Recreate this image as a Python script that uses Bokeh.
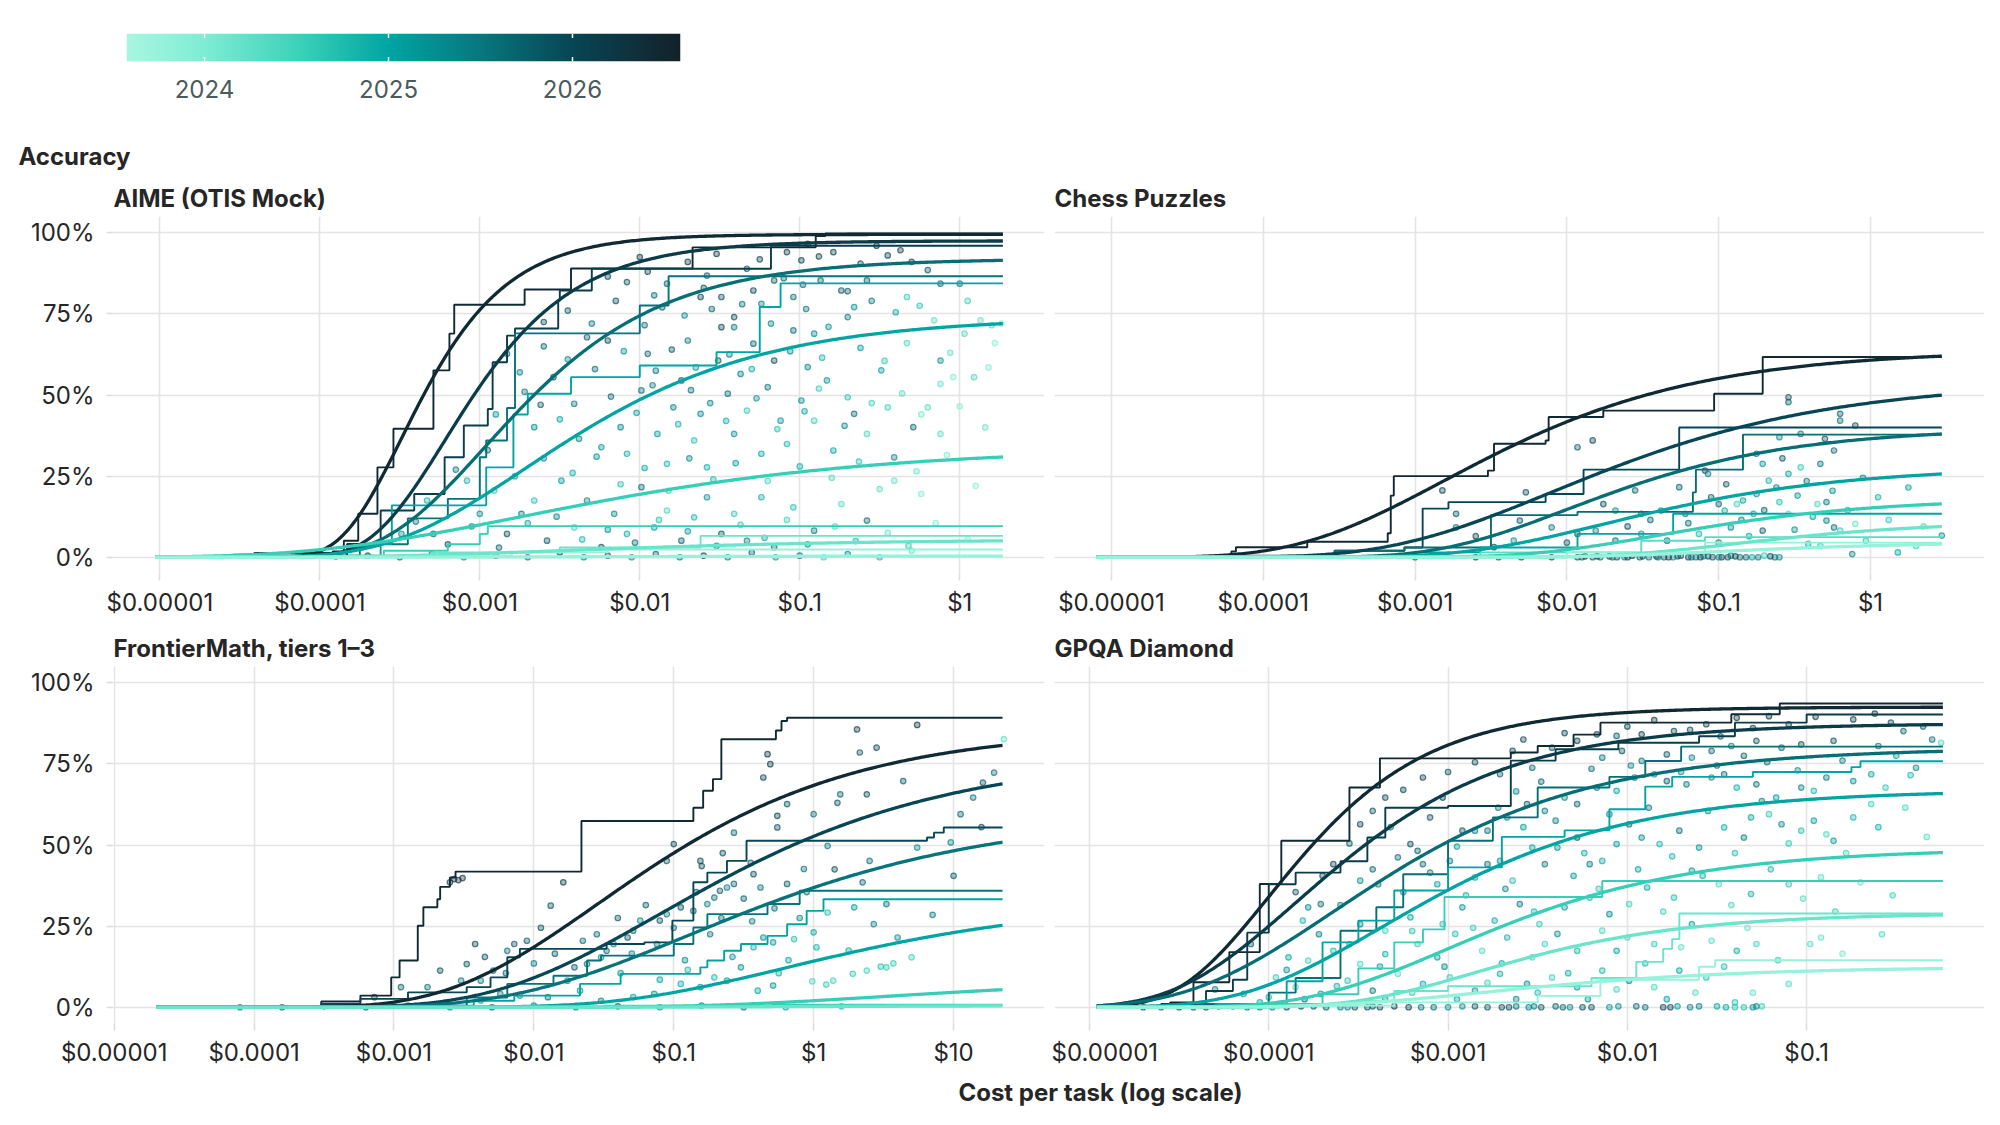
import numpy as np
from bokeh.plotting import figure
from bokeh.layouts import column, row
from bokeh.models import (Range1d, FixedTicker, CustomJSTickFormatter, NumeralTickFormatter,
                          Title, Label)
from bokeh.embed import file_html
from bokeh.resources import INLINE

# ---------------- colour scale (release date) ----------------
cbar_years = [2023.576, 2024.0, 2024.5, 2025.0, 2025.5, 2026.0, 2026.587]
cbar_hex = ["#a9f6e1", "#7eedd3", "#3dd3b9", "#00a5a3", "#07787f", "#074654", "#13222a"]
cbar_ticks = [2024, 2025, 2026]

# ---------------- AIME (OTIS Mock) ----------------
aime_span = [-5.03, 0.27]          # log10 cost range of the data
aime_xlim = [-5.29, 0.53]
aime_curve_date = [2026.45, 2026.15, 2025.6, 2025.0, 2024.55, 2024.15, 2023.75]
aime_curve_top = [0.995, 0.975, 0.92, 0.74, 0.34, 0.055, 0.004]
aime_curve_mid = [-3.49, -3.22, -2.97, -2.72, -2.74, -2.5, -2.5]
aime_curve_k = [2.7, 2.2, 1.6, 1.2, 0.78, 0.9, 0.9]
aime_step_date = [2026.45, 2026.15, 2025.55, 2025.0, 2024.55, 2024.15, 2023.75]
aime_step_logcost = [
    [-4.54, -4.41, -3.92, -3.85, -3.76, -3.64, -3.54, -3.29, -3.19, -3.16, -2.72, -2.43, -1.67, -0.9, -0.84],
    [-4.5, -3.83, -3.62, -3.41, -3.22, -3.1, -2.95, -2.92, -2.83, -2.78, -2.51, -2.5, -2.3, -1.18],
    [-4.3, -3.75, -3.45, -3.2, -3.0, -2.96, -2.83, -2.78, -2.0, -1.82],
    [-4.1, -3.62, -3.55, -2.96, -2.79, -2.7, -2.43, -2.0, -1.52, -1.25, -1.12],
    [-4.2, -3.6, -3.2, -3.0, -2.95],
    [-4.0, -3.3, -2.5, -1.62],
    [-3.5, -2.8, -2.2],
]
aime_step_acc = [
    [0.8, 1.3, 1.8, 5.1, 13.4, 27.7, 39.6, 57.6, 68.9, 77.8, 82.5, 89.0, 95.5, 99.0, 99.8],
    [0.5, 4.1, 14.4, 19.5, 30.8, 40.6, 45.7, 60.1, 68.3, 70.5, 79.0, 82.2, 88.9, 96.0],
    [0.5, 4, 12, 18, 30.8, 36, 46, 69, 77.6, 86.6],
    [0.5, 4.1, 16.0, 27.7, 44.0, 50.4, 55.5, 59.1, 63.2, 77.1, 84.4],
    [0.3, 2.0, 4.0, 7.2, 9.6],
    [0.3, 1.5, 3.0, 6.6],
    [0.5, 1.5, 2.4],
]
aime_pt_logcost = [
    -2.08, -2.0, -1.91, -1.83, -1.62, -1.58, -1.49, -1.41, -1.41, -1.33, -1.29, -1.24, -1.16, -1.08, -1.04, -0.99,
    -0.95, -0.91, -0.87, -0.79, -0.74, -0.70, -0.66, -0.58, -0.45, -0.37, -0.33, -0.16, -0.12, 0.0, 0.03, 0.13, 0.26,
    -2.83, -2.66, -2.54, -2.41, -2.33, -2.24, -2.2, -2.12, -2.08, -1.99, -1.95, -1.89, -1.83, -1.79, -1.74, -1.7,
    -1.66, -1.62, -1.58, -1.51, -1.49, -1.45, -1.41, -1.37, -1.33, -1.29, -1.24, -1.2, -1.16, -1.12, -1.08, -1.04,
    -0.99, -0.95, -0.91, -0.83, -0.79, -0.70, -0.66, -0.58, -0.49, -0.45, -0.41, -0.29, -0.2, -0.12, -0.12, -0.04,
    0.09, -0.12,
    -3.49, -3.33, -3.29, -3.08, -3.0, -2.91, -2.83, -2.74, -2.66, -2.58, -2.49, -2.41, -2.33, -2.24, -2.16, -2.08,
    -1.99, -1.91, -1.83, -1.74, -1.66, -1.58, -1.49, -1.41, -1.33, -1.24, -1.16, -1.04, -0.91, -0.74, -0.58, -0.41,
    -0.24,
    -3.9, -3.7, -3.5, -3.3, -3.1, -2.9, -2.7, -2.5, -2.35, -2.2, -2.05, -1.9, -1.75, -1.6, -1.45, -1.3, -1.15, -1.0,
    -0.85, -0.7, -0.5, -0.3,
    -1.95, -1.7, -1.52, -1.25, -0.88, -0.62, -0.52, -0.3, -0.2, -1.1, -2.2, -0.98,
    -2.45, -2.3, -2.15, -1.97, -1.86, -1.72, -1.55, -1.36, -1.18, -0.96, -0.82, -0.55, -0.4, -0.25, 0.05, 0.2,
    -0.7, -1.6, -2.6,
    -2.75, -2.6, -2.45, -2.28, -2.1, -1.9, -1.8, -1.65, -1.44, -1.3, -1.06, -0.86, -0.62, -0.47, -0.33, -0.06,
    0.18, 0.22,
    -2.9, -2.72, -2.5, -2.38, -2.18, -2.02, -1.92, -1.76, -1.56, -1.46, -1.27, -1.14, -0.97, -0.88, -0.72, -0.55,
    -0.36, -0.24, 0.0, 0.16, -1.68, -2.62,
    -3.15, -2.95, -2.78, -2.6, -2.42, -2.27, -2.12, -1.97, -1.82, -1.69, -1.54, -1.4, -1.2, -1.0, -0.8, -0.63,
    -0.5, -0.27, -0.08, 0.1,
    -3.4, -3.2, -3.05, -2.88, -2.7, -2.52, -2.36, -2.2, -2.03, -1.88, -1.7, -1.52, -1.37, -1.22, -1.08, -0.95,
    -0.78, -0.65, -0.45, -0.32, -0.15, 0.05,
]
aime_pt_acc = [
    84.8, 92.5, 80.7, 84.3, 80.2, 86.8, 80.2, 70.9, 74, 88.9, 82.2, 78.1, 85.3, 94, 80.2, 91.5,
    96.6, 68.9, 85.3, 94, 82.2, 74, 77.1, 85.3, 93, 94.6, 80.2, 73, 84.3, 84.3, 68.9, 73, 72,
    62.7, 40.1, 55.5, 47.3, 67.8, 33.9, 66.8, 40.1, 31.9, 51.4, 62.7, 38, 28.8, 46.2, 54.5, 66.8,
    36, 44.2, 27.7, 60.6, 70.9, 50.4, 38, 56.5, 45.2, 65.8, 31.9, 52.4, 60.6, 42.1, 34.9, 69.9,
    48.3, 58.6, 42.1, 54.5, 32.9, 49.3, 44.2, 38, 57.6, 46.2, 30.8, 40.1, 46.2, 53.4, 60.6, 55.5,
    55.5, 38,
    7.2, 17.5, 7.2, 23.6, 13.4, 20.6, 7.2, 13.4, 17.5, 5.1, 23.6, 9.2, 17.5, 3.1, 13.4, 7.2,
    21.6, 9.2, 14.4, 5.1, 12.3, 18.5, 7.2, 13.4, 5.1, 18.5, 3.1, 15.4, 8.2, 16.4, 11.3, 23.6,
    19.5,
    0.3, 0.5, 0, 1, 0, 0.5, 0, 1.5, 0, 0.5, 0, 1, 0, 0.5, 0, 1.5, 0, 0.5,
    0, 1, 0, 2,
    88, 91, 93.5, 91.8, 92.7, 90.5, 96, 91, 88.5, 86, 86.5, 84,
    76, 72, 79, 71.5, 77, 74.5, 76.5, 78, 72, 76.5, 71, 79, 75.5, 77.5, 79, 71.5,
    82, 83, 72.5,
    57, 65, 61, 58, 63.5, 57.5, 64, 58.5, 62.5, 58, 63.5, 61.5, 64.5, 60.5, 66, 63,
    58.5, 66,
    44, 51, 42.5, 36.5, 49.5, 44.5, 53, 41, 47.5, 42, 49, 39.5, 45, 52, 40.5, 47.5,
    50.5, 44, 46.5, 40, 51.5, 47,
    27, 33, 25, 30.5, 26, 31, 22.5, 27.5, 20.5, 30.5, 24, 29, 23.5, 28, 24.5, 29.5,
    21, 26.5, 31.5, 22,
    11, 4, 9.5, 3, 10.5, 12.5, 5.5, 8.5, 4.5, 11.5, 8, 3.5, 10, 6, 11.5, 4,
    9.5, 5, 7.5, 3.5, 10.5, 5.5,
]
aime_pt_date = [
    2025.9, 2026.2, 2025.6, 2025.8, 2026.1, 2025.7, 2025.9, 2025.5, 2026.0, 2025.9, 2026.1, 2025.4, 2025.8, 2026.2, 2025.6, 2026.0,
    2026.3, 2025.3, 2025.7, 2026.1, 2025.9, 2025.5, 2025.2, 2025.8, 2026.0, 2026.2, 2024.6, 2024.3, 2025.7, 2025.4, 2024.4, 2024.2, 2023.9,
    2025.6, 2025.3, 2025.9, 2025.5, 2025.8, 2025.2, 2026.0, 2025.4, 2024.9, 2025.6, 2025.7, 2025.1, 2024.8, 2025.4, 2025.9, 2025.5,
    2024.7, 2025.3, 2024.9, 2025.8, 2026.0, 2025.6, 2025.2, 2025.4, 2024.6, 2025.7, 2025.0, 2025.5, 2025.9, 2025.1, 2024.8, 2025.6,
    2025.3, 2025.4, 2024.5, 2025.2, 2025.0, 2024.7, 2025.6, 2024.4, 2025.1, 2024.5, 2025.3, 2025.7, 2024.3, 2024.2, 2025.2, 2024.0,
    2024.4, 2024.3,
    2025.3, 2024.9, 2025.6, 2024.8, 2025.2, 2024.6, 2025.9, 2025.5, 2024.7, 2025.8, 2025.1, 2024.5, 2025.4, 2026.0, 2025.3, 2024.9,
    2025.6, 2025.0, 2024.4, 2025.7, 2024.8, 2025.2, 2025.9, 2024.6, 2025.4, 2024.9, 2025.8, 2024.7, 2025.5, 2024.3, 2025.6, 2024.2,
    2024.0,
    2025.9, 2026.1, 2025.7, 2025.5, 2025.3, 2025.8, 2025.6, 2026.0, 2025.4, 2025.9, 2025.2, 2025.7, 2025.5, 2026.1, 2025.3, 2025.8,
    2025.0, 2025.6, 2024.5, 2025.4, 2024.8, 2024.2,
    2026.1, 2026.2, 2026.3, 2026.0, 2026.1, 2025.9, 2026.3, 2026.2, 2025.8, 2025.7, 2026.0, 2025.6,
    2025.8, 2025.5, 2025.9, 2025.6, 2025.8, 2025.4, 2025.7, 2025.5, 2025.3, 2025.6, 2025.2, 2025.5, 2025.0, 2024.7, 2024.5, 2024.3,
    2025.8, 2025.9, 2026.0,
    2025.4, 2025.7, 2025.3, 2025.6, 2025.2, 2025.5, 2025.8, 2025.1, 2025.4, 2024.9, 2025.3, 2024.8, 2025.1, 2024.6, 2024.4, 2024.2,
    2024.0, 2023.9,
    2025.2, 2025.6, 2025.0, 2025.4, 2025.7, 2025.1, 2025.5, 2024.8, 2025.3, 2024.9, 2025.2, 2024.7, 2025.0, 2024.6, 2025.3, 2024.5,
    2024.3, 2024.1, 2023.9, 2024.2, 2025.6, 2025.8,
    2025.5, 2025.8, 2025.1, 2025.4, 2024.9, 2025.2, 2024.7, 2025.0, 2024.6, 2025.3, 2024.8, 2025.1, 2024.5, 2024.9, 2024.4, 2024.7,
    2024.3, 2024.2, 2024.0, 2023.9,
    2025.6, 2025.9, 2025.3, 2025.7, 2025.0, 2025.4, 2024.8, 2025.2, 2025.6, 2024.7, 2025.1, 2025.5, 2024.6, 2025.0, 2024.5, 2025.3,
    2024.4, 2024.8, 2024.2, 2024.6, 2024.0, 2023.9,
]

# ---------------- Chess Puzzles ----------------
chess_span = [-5.1, 0.47]
chess_xlim = [-5.375, 0.751]
chess_curve_date = [2026.45, 2026.0, 2025.6, 2025.0, 2024.55, 2024.15, 2023.75]
chess_curve_top = [0.64, 0.545, 0.40, 0.28, 0.183, 0.112, 0.048]
chess_curve_mid = [-2.81, -2.1, -2.0, -1.75, -1.4, -0.9, -1.0]
chess_curve_k = [1.05, 0.95, 1.2, 1.1, 1.2, 1.3, 1.2]
chess_step_date = [2026.45, 2026.0, 2025.6, 2025.0, 2024.3, 2023.8]
chess_step_logcost = [
    [-4.21, -4.18, -3.71, -3.18, -3.16, -3.14, -2.52, -2.48, -2.14, -2.12, -1.76, -1.03, -0.71],
    [-4.21, -3.53, -3.07, -2.95, -2.78, -2.14, -1.89, -1.26],
    [-4.1, -3.53, -3.07, -2.5, -1.93, -1.17, -1.15, -0.84],
    [-4.0, -3.0, -2.57, -1.93, -1.3],
    [-3.5, -2.57, -1.51, -1.09],
    [-3.2, -2.0, -1.09],
]
chess_step_acc = [
    [1.8, 3.1, 4.8, 7.4, 19, 25, 26.7, 35, 36, 43.2, 45.2, 50.4, 61.7],
    [0.5, 2, 3, 15, 17, 19.5, 27, 40],
    [0.3, 2, 3, 13, 14, 20, 27, 37.8],
    [0.3, 1.5, 3, 7.2, 13.4],
    [0.3, 1.5, 5.1, 6.2],
    [0.3, 1.5, 4.5],
]
chess_pt_logcost = [
    -0.54, -0.54, -0.2, -0.1, -0.2, -0.46, -0.6, -0.75, -1.09, -1.07, -1.26, -0.71, -0.54, -0.46, -0.33, -0.24,
    -0.67, -0.84, -0.88, -0.75, -0.96, -1.0, -0.48, -0.35, -0.29, -0.6, -0.77, -0.54, -0.29, -0.2, -0.1, -0.71,
    -0.92, -1.13, -1.34, -1.51, -1.68, -1.81, -1.93, -2.1, -2.31, -2.35, -2.48, -2.73, -2.82, -2.73, -2.27, -1.93,
    -1.83, -1.55, -1.38, -1.22, -1.51, -1.76, -1.68, -0.41, -0.12, 0.18, 0.47, -0.03, -0.24,
    -1.93, -1.88, -1.83, -1.78, -1.72, -1.67, -1.62, -1.57, -1.52, -1.46, -1.41, -1.36, -1.3, -1.25, -1.2, -1.15,
    -1.1, -1.04, -0.98, -0.92, -0.86, -0.78, -0.7, -0.63, -2.3, -2.6, -3.0,
    -1.2, -1.05, -0.95, -0.85, -0.7, -0.62, -0.5, -0.42, -0.38, -0.25, -0.15, -0.05, 0.05, 0.12, 0.25, 0.35,
    -0.58, -0.3, -1.45, -1.6, -1.0, -0.8, -0.33, 0.3, -2.0, -2.6,
    -1.9, -1.8, -1.7, -1.6, -1.5, -1.4, -1.33, -1.27, -1.18, -1.12, -1.07, -1.0, -0.94, -0.89, -0.82, -0.74,
    -0.66, -0.6, -2.1, -2.45,
]
chess_pt_acc = [
    49.3, 47.8, 44.2, 40.6, 42.1, 38, 37, 31.9, 26.7, 25.7, 21.6, 28.8, 25.7, 27.7, 28.8, 32.9,
    23.6, 17.5, 16.4, 19.5, 14.4, 16.4, 19, 16.4, 17, 17, 13.4, 13.4, 11.3, 8.2, 10.3, 8.2,
    9.2, 7.2, 5.1, 7.2, 5.1, 8.2, 7.2, 9.2, 11.3, 5.1, 3.1, 9.2, 20.6, 13.4, 20, 33.9,
    36, 20.6, 14.4, 13.4, 13.4, 16.4, 14.4, 4.1, 1, 1.5, 6.7, 5.1, 9.2,
    0, 0.3, 0, 0, 0.3, 0, 0, 0.5, 0, 0, 0.3, 0, 0, 0.5, 0, 0,
    0.3, 0, 0, 0.5, 0, 0, 0.5, 0, 0, 0, 0,
    10.5, 18.5, 22.5, 11.5, 14.5, 21.5, 8.5, 23.5, 12.5, 20.5, 14.5, 24.5, 18.5, 11.5, 21.5, 9.5,
    30.5, 36.5, 11.5, 9.5, 4.5, 6.5, 3.5, 3.5, 4.5, 6.5,
    0, 0.3, 0, 0, 0.3, 0, 0, 0.3, 0, 0, 0.3, 0, 0, 0.3, 0, 0,
    0.3, 0, 0, 0,
]
chess_pt_date = [
    2025.9, 2025.7, 2025.8, 2026.0, 2025.6, 2025.5, 2025.3, 2025.6, 2025.9, 2025.4, 2025.7, 2025.2, 2025.0, 2024.6, 2025.5, 2025.7,
    2024.8, 2025.1, 2024.5, 2025.3, 2024.9, 2025.6, 2025.2, 2024.4, 2025.5, 2024.7, 2025.0, 2024.3, 2025.4, 2024.6, 2024.2, 2025.8,
    2025.3, 2024.8, 2025.6, 2025.1, 2025.7, 2025.4, 2025.9, 2025.5, 2025.8, 2025.2, 2026.0, 2025.6, 2026.1, 2025.8, 2025.9, 2025.8,
    2026.0, 2025.7, 2025.3, 2025.5, 2025.6, 2025.9, 2025.2, 2024.9, 2025.4, 2025.0, 2025.3, 2024.7, 2025.6,
    2025.9, 2026.1, 2025.8, 2025.6, 2026.2, 2025.9, 2025.4, 2026.0, 2025.7, 2025.5, 2026.1, 2025.8, 2025.3, 2025.9, 2026.0, 2025.6,
    2025.2, 2025.8, 2026.1, 2025.4, 2025.7, 2025.0, 2024.6, 2025.5, 2025.9, 2026.0, 2025.8,
    2025.6, 2025.8, 2025.9, 2025.4, 2025.7, 2025.5, 2025.2, 2025.6, 2025.0, 2025.3, 2024.8, 2025.5, 2024.9, 2024.6, 2025.1, 2024.4,
    2025.8, 2025.9, 2025.7, 2025.9, 2025.3, 2025.0, 2024.7, 2024.5, 2025.8, 2026.0,
    2025.8, 2026.0, 2025.7, 2026.1, 2025.9, 2025.5, 2026.2, 2025.8, 2025.6, 2026.0, 2025.9, 2025.4, 2025.8, 2026.1, 2025.7, 2025.5,
    2025.9, 2025.3, 2026.0, 2025.8,
]

# ---------------- FrontierMath, tiers 1-3 ----------------
fm_span = [-4.7, 1.35]
fm_xlim = [-5.005, 1.65]
fm_curve_date = [2026.45, 2026.0, 2025.55, 2025.0, 2024.55, 2024.15]
fm_curve_top = [0.86, 0.78, 0.60, 0.33, 0.09, 0.006]
fm_curve_mid = [-1.55, -1.1, -0.9, -0.2, 0.5, 0.0]
fm_curve_k = [0.95, 0.85, 0.8, 0.85, 0.8, 0.8]
fm_step_date = [2026.45, 2026.0, 2025.55, 2025.0, 2024.55]
fm_step_logcost = [
    [-3.52, -3.24, -3.02, -2.96, -2.83, -2.79, -2.69, -2.67, -2.6, -2.56, -1.66, -0.86, -0.79, -0.72, -0.66, -0.27, -0.23, -0.19],
    [-3.52, -3.24, -2.9, -2.48, -2.31, -2.19, -2.1, -1.48, -1.21, -1.01, -0.86, -0.76, -0.62, -0.48, 0.81, 0.86, 0.93],
    [-3.24, -2.48, -2.19, -1.86, -1.62, -1.52, -1.0, -0.86, -0.76, -0.33, -0.1],
    [-2.9, -2.43, -2.14, -1.67, -1.38, -0.81, -0.76, -0.64, -0.52, -0.33, -0.19, -0.05, 0.07],
    [-3.0, -1.5, -0.3],
]
fm_step_acc = [
    [1.8, 3.6, 9.2, 14.4, 25.1, 30.8, 33.3, 37.1, 40, 41.8, 57.4, 61.5, 66.7, 70.3, 82.6, 85.3, 88.2, 89.2],
    [1.0, 2.6, 4.6, 6.2, 9.2, 15.4, 18, 19.5, 20, 26.7, 38.5, 41.5, 45.1, 51.3, 52.3, 53.8, 55.4],
    [0.5, 3, 7.2, 9.7, 14.4, 15.9, 19.5, 24.6, 28.7, 31.8, 35.9],
    [0.5, 2, 3.6, 7.2, 10.3, 12.3, 14.4, 17.4, 19.5, 22, 25.6, 29.7, 33.3],
    [0.2, 0.5, 0.8],
]
fm_pt_logcost = [
    0.31, 0.74, 0.45, 0.33, -0.33, -0.31, -0.36, 1.36, 1.29, 1.21, 0.64, 0.38, 0.19, 0.17, 0.0, -0.26,
    -0.19, -0.26, -0.57, -1.0, -1.05, -0.81, 1.14, 1.05, 0.98, 0.74, 0.4, 0.1, -0.07, -0.19, -0.38, -0.43,
    -0.57, -0.62, -0.67, -0.71, -0.76, -0.86, -0.95, -1.05, -1.1, -1.24, -1.29, -1.33, -1.43, -1.48, -1.52, -1.62,
    -1.71, -1.76, -1.79, -1.88, -2.05, -2.14, -2.19, -2.29, -2.38, -2.48, -2.52, -2.67, -2.76, -2.57, -2.54, -2.51,
    -2.6, -2.95, -3.14, 0.52, 0.14, 0.28, 0.38, 0.48, 0.57, 0.7, -0.01, 0.09, -0.29, -0.4, 0.43, 0.52,
    0.29, 0.1, 0.0, -0.14, -0.29, -0.43, -0.52, -0.62, -0.71, -0.81, -0.95, -1.14, -1.29, -1.52, -1.67, -1.9,
    -2.1, -2.24, -2.38,
    -4.1, -3.8, -3.5, -3.2, -2.9, -2.6, -2.3, -2.0, -1.7, -1.4, -1.1, -0.8, -0.5, -0.2, 0.2, -3.0,
    -1.55, -1.4, -1.3, -1.2, -1.12, -1.0, -0.92, -0.84, -0.74, -0.66, -0.58, -0.5, -0.44, -0.36, -0.28, -0.18,
    -0.1, 0.02, -0.8, -0.65, -0.45, -1.65, -1.85, -2.0, -2.2, -2.35, -1.95, -2.42, -1.38, -1.1, -0.9, -0.25,
    0.25, 0.6, 0.85, 0.35, 0.15, -0.05, 1.0, 1.2,
]
fm_pt_acc = [
    85.6, 87, 80, 78.5, 78, 74.9, 70.8, 82.6, 72.3, 69.2, 69.7, 65.6, 65.6, 63, 59.5, 59,
    62.6, 55.4, 53.8, 50.3, 45.1, 45.1, 64.6, 59.5, 50.8, 49.2, 45.1, 49.7, 42.6, 38, 36.9, 41,
    38, 36.9, 35.9, 33.8, 31.8, 29.7, 30.8, 28.7, 26.7, 26.7, 23.6, 21.5, 19.5, 17.4, 15.4, 13.3,
    12.3, 8.2, 38.5, 31.3, 20.5, 19.5, 17.4, 11.3, 8.2, 13.3, 8.2, 11.3, 6.2, 39.5, 39.2, 39.8,
    38.5, 6.2, 3.1, 12.3, 8.2, 10.3, 11.3, 12.5, 13.5, 15.4, 8.0, 7.0, 6.7, 5.1, 25.6, 31.8,
    30.8, 29.2, 23.1, 21, 20, 18.5, 12.3, 8.2, 9.2, 6.2, 7.2, 4.1, 3.1, 2, 5.1, 3.1,
    3.6, 4.1, 2.1,
    0, 0, 0.3, 0, 0.5, 0, 0, 0.5, 0, 0.3, 0, 0.5, 0, 0, 0.3, 0.5,
    22.5, 27.5, 16.5, 31.5, 19.5, 24.5, 14.5, 35.5, 22.5, 27.5, 15.5, 33.5, 26.5, 21.5, 30.5, 14.5,
    27.5, 18.5, 43.5, 47.5, 44.5, 20.5, 16.5, 13.5, 10.5, 15.5, 24.5, 19.5, 10.5, 8.5, 11.5, 10.5,
    17.5, 21.5, 28.5, 38.5, 42.5, 35.5, 40.5, 55.5,
]
fm_pt_date = [
    2026.2, 2026.3, 2026.1, 2025.9, 2026.3, 2026.2, 2026.1, 2024.3, 2025.6, 2025.9, 2025.8, 2026.0, 2025.7, 2025.9, 2025.6, 2026.1,
    2025.8, 2025.9, 2025.7, 2026.0, 2025.8, 2025.9, 2025.5, 2025.7, 2025.4, 2025.3, 2025.6, 2025.5, 2025.6, 2025.8, 2025.6, 2025.9,
    2025.7, 2025.5, 2025.8, 2025.6, 2025.4, 2025.7, 2025.9, 2025.5, 2025.8, 2025.3, 2025.6, 2025.9, 2025.4, 2025.7, 2025.2, 2025.5,
    2025.8, 2025.3, 2026.2, 2025.9, 2025.8, 2025.9, 2025.6, 2025.7, 2025.4, 2025.8, 2025.5, 2025.9, 2025.6, 2026.3, 2026.3, 2026.3,
    2026.2, 2025.8, 2026.0, 2024.6, 2024.5, 2024.6, 2024.5, 2024.7, 2024.6, 2024.5, 2024.4, 2024.6, 2025.2, 2025.0, 2025.4, 2025.6,
    2025.2, 2024.8, 2025.0, 2024.7, 2025.1, 2024.9, 2025.3, 2025.1, 2024.8, 2025.2, 2024.9, 2025.3, 2025.0, 2025.4, 2025.1, 2025.6,
    2025.2, 2025.5, 2025.0,
    2025.6, 2025.8, 2025.5, 2025.9, 2025.7, 2025.4, 2025.8, 2025.3, 2025.6, 2025.9, 2025.2, 2025.5, 2025.7, 2025.0, 2024.8, 2025.6,
    2025.7, 2025.9, 2025.4, 2025.8, 2025.5, 2025.7, 2025.3, 2025.9, 2025.6, 2025.8, 2025.2, 2025.7, 2025.5, 2025.3, 2025.6, 2025.0,
    2025.4, 2024.9, 2026.0, 2025.9, 2025.8, 2025.6, 2025.8, 2025.5, 2025.7, 2025.9, 2026.0, 2026.1, 2025.2, 2025.0, 2024.8, 2024.9,
    2025.0, 2025.3, 2025.5, 2025.7, 2025.9, 2025.6, 2025.8, 2026.0,
]

# ---------------- GPQA Diamond ----------------
gpqa_span = [-4.96, -0.24]
gpqa_xlim = [-5.195, -0.008]
gpqa_curve_date = [2026.45, 2026.15, 2025.6, 2025.0, 2024.55, 2024.15, 2023.75]
gpqa_curve_top = [0.925, 0.875, 0.80, 0.67, 0.49, 0.29, 0.125]
gpqa_curve_mid = [-4.0, -3.85, -3.64, -3.37, -3.0, -2.85, -2.8]
gpqa_curve_k = [2.0, 1.5, 1.25, 1.3, 1.3, 1.5, 1.2]
gpqa_step_date = [2026.45, 2026.15, 2025.6, 2025.0, 2024.55, 2024.15, 2023.75]
gpqa_step_logcost = [
    [-4.7, -4.55, -4.42, -4.22, -4.05, -3.93, -3.55, -3.38, -2.65, -2.5, -2.3, -2.15, -1.42, -1.15],
    [-4.6, -4.35, -4.2, -4.12, -4.0, -3.85, -3.6, -3.45, -3.35, -3.0, -2.65, -2.4, -2.05, -1.6, -1.4, -1.0],
    [-4.4, -4.0, -3.85, -3.6, -3.4, -3.25, -3.0, -2.75, -2.5, -2.1, -1.9, -1.7],
    [-4.3, -3.9, -3.7, -3.5, -3.3, -3.0, -2.7, -2.35, -2.1, -1.9, -1.75, -1.3, -0.75, -0.7],
    [-4.0, -3.7, -3.5, -3.3, -3.14, -3.02, -2.14],
    [-4.0, -3.5, -3.3, -3.0, -2.2, -1.95, -1.8, -1.75, -1.71],
    [-3.9, -3.3, -2.5, -2.15, -1.6, -1.51],
]
gpqa_step_acc = [
    [0.5, 1.5, 7.7, 17, 38, 51.3, 67.7, 76.7, 78.5, 80.5, 84, 87.7, 90.3, 93.6],
    [1, 5, 8.5, 23, 37.9, 41.5, 45, 52.3, 61.5, 62, 76, 79.5, 81.5, 83.5, 87.7, 90.2],
    [1, 4.5, 9, 23.6, 30.8, 41, 51.3, 58.5, 67.7, 71, 75.9, 80.3],
    [1, 8, 20, 26.7, 36, 43.1, 52.5, 54.5, 61, 68, 71, 72.5, 74, 75.8],
    [1, 4, 12, 20, 24, 34, 38.9],
    [0.5, 2, 5, 6.5, 9, 14, 18, 21, 28.9],
    [0.5, 1.5, 3.5, 8.5, 12.5, 14.5],
]
gpqa_pt_logcost = [
    -1.39, -1.21, -1.1, -1.56, -1.74, -1.92, -2.06, -2.17, -0.74, -0.53, -0.46, -0.85, -1.03, -1.14, -1.28, -1.42,
    -1.53, -1.64, -1.78, -1.92, -2.03, -2.14, -2.28, -2.42, -2.53, -2.64, -2.71, -0.25, -0.39, -0.64, -0.56, -0.74,
    -0.89, -0.96, -1.03, -1.17, -1.28, -1.39, -1.46, -1.53, -1.67, -1.78, -1.85, -1.96, -2.06, -2.17, -2.28, -2.35,
    -2.46, -2.56, -2.67, -2.78, -2.85, -2.92, -3.03, -3.14, -3.35, -3.42, -3.49, -3.17, -3.28,
    -0.64, -0.74, -0.89, -0.85, -1.03, -1.14, -1.21, -1.31, -1.35, -1.46, -1.6, -1.71, -1.82, -1.92, -1.99, -2.06,
    -2.14, -2.21, -2.28, -2.39, -2.46, -2.53, -2.64, -2.71, -2.78, -2.85, -2.99, -3.06, -3.14, -3.21, -3.39, -3.49,
    -3.64, -3.71, -3.78, -3.81, -0.92, -1.1, -1.31, -1.49, -1.64, -1.74, -1.89, -1.99, -2.1, -2.21, -2.35, -2.49,
    -2.6, -2.74, -2.92, -3.03, -3.21, -3.35, -3.49, -0.92, -1.28, -1.39, -1.53, -1.64, -1.85, -2.06, -2.14, -2.28,
    -2.39, -2.53, -2.67, -2.81, -2.96, -3.06, -3.17, -3.35, -3.49, -3.64, -3.78, -3.89, -3.96,
    -1.1, -1.56, -1.71, -1.85, -1.99, -2.14, -2.28, -2.42, -2.56, -2.71, -2.85, -2.99, -3.14, -3.28, -3.42, -3.56,
    -3.71, -3.85, -4.0, -4.14,
    -4.5, -4.35, -4.2, -4.05, -3.9, -3.75, -3.6, -3.45, -3.3, -3.15, -3.0, -2.85, -2.7, -2.55, -2.4, -2.25,
    -2.1, -1.95, -1.8, -1.65, -1.5, -1.4, -1.3, -1.25, -3.52, -3.38, -2.62, -2.48, -2.32, -1.72,
    -2.0, -1.85, -1.65, -1.3, -0.95, -0.62, -0.35, -0.3, -0.6, -1.48, -2.35, -2.58,
    -3.0, -2.85, -2.48, -2.2, -1.98, -1.7, -1.5, -1.22, -1.05, -0.8, -0.5, -0.42, -1.35, -2.62, -3.25,
    -3.55, -3.32, -3.1, -2.95, -2.72, -2.58, -2.4, -2.24, -2.1, -1.88, -1.75, -1.55, -1.4, -1.25, -1.1, -0.96,
    -0.78, -0.6, -0.45, -0.33,
    -3.85, -3.6, -3.42, -3.25, -3.1, -2.9, -2.68, -2.52, -2.3, -2.16, -1.94, -1.8, -1.58, -1.42, -1.2, -1.02,
    -0.84, -0.7, -0.52, -3.7,
    -4.1, -3.9, -3.72, -3.55, -3.38, -3.2, -3.02, -2.86, -2.7, -2.46, -2.33, -2.0, -1.9, -1.7, -1.46, -1.33,
    -1.16, -0.98, -0.8, -0.58,
    -4.3, -4.05, -3.8, -3.62, -3.35, -3.2, -2.95, -2.78, -2.62, -2.5, -2.22, -2.06, -1.78, -1.62, -1.4, -1.3,
    -4.42, -4.28, -4.12, -3.98, -3.82, -3.68, -3.56, -3.42, -3.22, -3.08, -2.92, -2.78, -2.66, -2.52, -2.36, -2.2,
    -2.05, -1.9, -1.76, -1.6, -1.45, -1.35, -1.28, -4.6, -4.7,
]
gpqa_pt_acc = [
    89.2, 89.7, 87.2, 87.2, 85.1, 84.1, 83.6, 84.1, 88.7, 87.7, 85.1, 82.1, 81, 80, 82.1, 80.5,
    79, 76.9, 77.9, 75.9, 79, 76.9, 82.1, 80, 73.8, 79, 71.8, 81.5, 73.8, 71.8, 67.7, 69.7,
    70.8, 66.7, 67.7, 64.6, 68.7, 67.7, 71.8, 70.8, 68.7, 69.7, 71.8, 70.8, 66.7, 67.7, 62.6, 64.6,
    60.5, 62.6, 58.5, 54.4, 54.4, 54.4, 64.6, 70.8, 64.6, 60.5, 56.4, 48.2, 46.2,
    62.6, 58.5, 53.3, 51.3, 54.4, 56.4, 59.5, 58.5, 52.3, 55.4, 49.2, 54.4, 50.3, 52.3, 56.4, 50.3,
    45.1, 44.1, 52.3, 49.2, 44.1, 49.2, 39, 45.1, 44.1, 40, 45.1, 37.9, 44.1, 50.3, 37.9, 39,
    44.1, 31.8, 30.8, 26.7, 40, 37.9, 34.9, 37.9, 42.1, 33.8, 36.9, 31.8, 28.7, 33.8, 30.8, 25.6,
    31.8, 26.7, 30.8, 25.6, 27.7, 23.6, 25.6, 21.5, 19.5, 17.4, 20.5, 25.6, 19.5, 17.4, 23.6, 17.4,
    22.6, 15.4, 21.5, 17.4, 22.6, 15.4, 19.5, 16.4, 13.3, 17.4, 14.4, 15.4, 9.2,
    7.2, 9.2, 11.3, 6.2, 8.2, 11.3, 6.2, 9.2, 7.2, 10.3, 5.1, 9.2, 7.2, 10.3, 5.1, 8.2,
    4.1, 6.2, 3.1, 4.1,
    0, 0, 0.3, 0, 0, 0.3, 0, 0, 0.3, 0, 0, 0.3, 0, 0, 0.3, 0,
    0, 0.3, 0, 0, 0.3, 0, 0, 0.3, 0, 0, 0.3, 0, 0, 0.3,
    86.5, 88.5, 85.5, 86, 89.5, 90.5, 86.5, 82.5, 80.5, 83.5, 84.5, 82.5,
    72.5, 75.5, 69.5, 73.5, 74.5, 72.5, 74.5, 75.5, 73, 76, 77.5, 71.5, 77.5, 66.5, 67,
    50.5, 55.5, 58.5, 49.5, 61.5, 55.5, 57.5, 47.5, 59.5, 61.5, 46.5, 60.5, 47.5, 63.5, 50.5, 57.5,
    47.5, 55.5, 61.5, 52.5,
    35.5, 31.5, 42.5, 35.5, 41.5, 34.5, 36.5, 29.5, 40.5, 36.5, 42.5, 29.5, 40.5, 31.5, 42.5, 33.5,
    29.5, 38.5, 34.5, 40.5,
    19.5, 11.5, 22.5, 19.5, 12.5, 23.5, 12.5, 24.5, 13.5, 19.5, 10.5, 21.5, 13.5, 18.5, 12.5, 24.5,
    14.5, 19.5, 16.5, 22.5,
    5.5, 1.5, 2.5, 6.5, 2.5, 4.5, 2.5, 7.5, 2.5, 4.5, 2.5, 5.5, 2.5, 4.5, 1.5, 4.5,
    0, 0.3, 0, 0, 0.3, 0, 0, 0.3, 0, 0, 0.3, 0, 0, 0.3, 0, 0,
    0.3, 0, 0, 0.3, 0, 0, 0.3, 0, 0,
]
gpqa_pt_date = [
    2026.2, 2026.3, 2026.0, 2026.1, 2025.9, 2026.2, 2025.8, 2026.0, 2026.1, 2025.9, 2025.7, 2025.8, 2026.0, 2025.6, 2025.9, 2025.5,
    2025.7, 2025.4, 2025.8, 2025.6, 2025.9, 2025.5, 2026.1, 2025.9, 2025.7, 2026.0, 2025.8, 2024.4, 2025.3, 2025.0, 2024.6, 2025.2,
    2025.5, 2024.8, 2025.4, 2025.1, 2025.6, 2024.9, 2025.7, 2025.3, 2025.5, 2025.8, 2025.2, 2025.6, 2025.0, 2025.4, 2025.7, 2025.3,
    2025.5, 2025.8, 2025.2, 2025.6, 2025.4, 2025.9, 2026.1, 2026.2, 2026.0, 2025.9, 2026.1, 2025.8, 2025.6,
    2024.5, 2024.8, 2024.4, 2025.1, 2024.7, 2025.3, 2024.6, 2025.0, 2025.4, 2024.9, 2025.2, 2025.6, 2024.8, 2025.3, 2025.7, 2025.1,
    2024.9, 2025.4, 2025.8, 2025.2, 2025.5, 2025.0, 2024.7, 2025.3, 2025.6, 2024.9, 2025.4, 2025.1, 2025.7, 2025.9, 2025.5, 2025.2,
    2026.0, 2025.6, 2025.3, 2024.8, 2024.3, 2024.6, 2024.9, 2024.4, 2025.2, 2024.7, 2025.0, 2024.5, 2025.3, 2024.8, 2025.1, 2024.6,
    2025.4, 2024.9, 2025.2, 2024.7, 2025.0, 2024.5, 2025.3, 2024.2, 2024.5, 2024.9, 2024.3, 2025.1, 2024.6, 2025.0, 2024.4, 2024.8,
    2025.2, 2024.5, 2024.9, 2024.3, 2024.7, 2025.1, 2024.6, 2024.9, 2024.4, 2024.8, 2024.5, 2025.0, 2024.6,
    2024.3, 2024.7, 2025.0, 2024.4, 2025.3, 2024.8, 2025.1, 2024.5, 2025.4, 2024.9, 2025.2, 2024.6, 2025.0, 2024.3, 2025.5, 2024.7,
    2025.1, 2024.4, 2024.8, 2025.2,
    2025.9, 2026.1, 2025.7, 2025.5, 2026.0, 2025.8, 2025.4, 2025.9, 2026.2, 2025.6, 2025.3, 2025.8, 2026.0, 2025.5, 2025.7, 2025.9,
    2025.2, 2025.6, 2026.1, 2025.4, 2025.0, 2024.7, 2025.3, 2024.5, 2025.8, 2026.0, 2025.6, 2025.9, 2025.4, 2025.1,
    2026.1, 2026.2, 2025.9, 2026.0, 2026.2, 2026.3, 2025.8, 2025.6, 2025.5, 2025.8, 2026.1, 2026.0,
    2025.9, 2026.0, 2025.7, 2025.6, 2025.4, 2025.3, 2025.6, 2025.7, 2025.2, 2025.5, 2025.1, 2024.8, 2025.8, 2025.3, 2026.0,
    2025.8, 2025.6, 2025.9, 2025.2, 2025.5, 2025.1, 2025.4, 2024.9, 2025.3, 2025.6, 2024.8, 2025.2, 2024.7, 2025.4, 2024.6, 2025.0,
    2024.5, 2024.9, 2024.4, 2024.3,
    2025.9, 2025.4, 2025.7, 2025.2, 2025.5, 2024.9, 2025.3, 2024.8, 2025.1, 2024.6, 2025.0, 2024.5, 2024.9, 2024.4, 2024.8, 2024.3,
    2024.6, 2024.2, 2024.5, 2026.0,
    2025.8, 2025.2, 2025.5, 2024.8, 2025.1, 2024.7, 2025.3, 2024.6, 2025.0, 2024.5, 2024.9, 2024.4, 2024.8, 2024.3, 2024.7, 2024.2,
    2024.6, 2024.3, 2024.1, 2024.4,
    2025.5, 2025.0, 2025.6, 2024.9, 2025.3, 2024.6, 2025.1, 2024.5, 2025.4, 2024.8, 2025.2, 2024.4, 2025.0, 2024.3, 2024.7, 2024.2,
    2025.9, 2026.1, 2025.7, 2025.5, 2026.0, 2025.8, 2025.4, 2025.9, 2026.2, 2025.6, 2025.3, 2025.8, 2026.0, 2025.5, 2025.7, 2025.9,
    2025.2, 2025.6, 2026.1, 2025.4, 2025.0, 2024.7, 2025.3, 2025.8, 2026.0,
]

# ---------------- styling ----------------
FONT = "Inter"
TEXT = "#262626"
GRID = "#e4e4e4"


def _rgb(h):
    return [int(h[i:i + 2], 16) for i in (1, 3, 5)]


_stops_rgb = np.array([_rgb(h) for h in cbar_hex], dtype=float)


def date_color(d):
    d = min(max(d, cbar_years[0]), cbar_years[-1])
    c = [np.interp(d, cbar_years, _stops_rgb[:, j]) for j in range(3)]
    return "#%02x%02x%02x" % tuple(int(round(v)) for v in c)


DOLLAR_FMT = CustomJSTickFormatter(code="""
const e = Math.round(Math.log10(tick));
if (e >= 0) { return "$" + Math.round(Math.pow(10, e)).toString(); }
return "$" + Math.pow(10, e).toFixed(-e);
""")


def style_title(t, size="24px"):
    t.align = "left"
    t.text_font = FONT
    t.text_font_size = size
    t.text_font_style = "bold"
    t.text_color = TEXT


def make_panel(title, xlim, span, c_date, c_top, c_mid, c_k, s_date, s_cost, s_acc,
               p_cost, p_acc, p_date, left, top_row, outer_title=None):
    W = 1051 if left else 941
    H = 515 if top_row else 455
    p = figure(width=W, height=H, x_axis_type="log",
               x_range=Range1d(10 ** xlim[0], 10 ** xlim[1]), y_range=Range1d(-0.05, 1.05),
               output_backend="svg", toolbar_location=None,
               y_axis_location="left" if left else None,
               min_border_left=113 if left else 3, min_border_right=7 if left else 8,
               min_border_top=107 if top_row else 42, min_border_bottom=51 if top_row else 56)
    p.outline_line_color = None
    p.background_fill_color = "white"
    p.border_fill_color = "white"

    if outer_title:
        # built-in title sits outermost; the panel title is added nearer the frame
        p.title.text = outer_title
        style_title(p.title)
        p.title.offset = -95
        p.title.standoff = 14
        p.add_layout(Title(text=title, align="left", text_font=FONT, text_font_size="24px",
                           text_font_style="bold", text_color=TEXT, standoff=8), "above")
    else:
        p.title.text = title
        style_title(p.title)
        p.title.standoff = 8

    decades = [10.0 ** e for e in range(-5, 3) if xlim[0] <= e <= xlim[1]]
    p.xaxis.ticker = FixedTicker(ticks=decades)
    p.xaxis.formatter = DOLLAR_FMT
    p.xgrid.ticker = FixedTicker(ticks=decades)
    yt = [0, 0.25, 0.5, 0.75, 1.0]
    p.ygrid.ticker = FixedTicker(ticks=yt)
    if left:
        p.yaxis.ticker = FixedTicker(ticks=yt)
        p.yaxis.formatter = NumeralTickFormatter(format="0%")
        p.yaxis.major_label_standoff = 12
    for ax in p.axis:
        ax.axis_line_color = None
        ax.major_tick_line_color = "#dcdcdc"
        ax.major_tick_line_width = 1.5
        ax.major_tick_out = 7
        ax.major_tick_in = 0
        ax.minor_tick_line_color = None
        ax.major_label_text_font = FONT
        ax.major_label_text_font_size = "24px"
        ax.major_label_text_color = TEXT
    p.xaxis.major_label_standoff = 7
    p.grid.grid_line_color = GRID
    p.grid.grid_line_width = 1.6

    # individual results
    n = min(len(p_cost), len(p_acc), len(p_date))
    px = [10 ** v for v in p_cost[:n]]
    py = [v / 100 for v in p_acc[:n]]
    pc = [date_color(d) for d in p_date[:n]]
    p.scatter(px, py, size=5.5, fill_color=pc, fill_alpha=0.35, line_color=pc, line_alpha=0.68,
              line_width=1.2)

    # cost-accuracy frontiers (steps)
    for d, xs, ys in zip(s_date, s_cost, s_acc):
        m = min(len(xs), len(ys))
        sx = [10 ** span[0]] + [10 ** v for v in xs[:m]] + [10 ** span[1]]
        sy = [0.0] + [v / 100 for v in ys[:m]] + [ys[m - 1] / 100]
        p.step(sx, sy, mode="after", line_color=date_color(d), line_width=1.9)

    # fitted curves
    lg = np.linspace(span[0], span[1], 400)
    for d, t, mid, k in zip(c_date, c_top, c_mid, c_k):
        yv = t * np.exp(-np.exp(-k * (lg - mid)))
        p.line(10 ** lg, yv, line_color=date_color(d), line_width=3.3)
    return p


tl = make_panel("AIME (OTIS Mock)", aime_xlim, aime_span, aime_curve_date, aime_curve_top,
                aime_curve_mid, aime_curve_k, aime_step_date, aime_step_logcost, aime_step_acc,
                aime_pt_logcost, aime_pt_acc, aime_pt_date, True, True, outer_title="Accuracy")
tr = make_panel("Chess Puzzles", chess_xlim, chess_span, chess_curve_date, chess_curve_top,
                chess_curve_mid, chess_curve_k, chess_step_date, chess_step_logcost, chess_step_acc,
                chess_pt_logcost, chess_pt_acc, chess_pt_date, False, True)
bl = make_panel("FrontierMath, tiers 1\u20133", fm_xlim, fm_span, fm_curve_date, fm_curve_top,
                fm_curve_mid, fm_curve_k, fm_step_date, fm_step_logcost, fm_step_acc,
                fm_pt_logcost, fm_pt_acc, fm_pt_date, True, False)
br = make_panel("GPQA Diamond", gpqa_xlim, gpqa_span, gpqa_curve_date, gpqa_curve_top,
                gpqa_curve_mid, gpqa_curve_k, gpqa_step_date, gpqa_step_logcost, gpqa_step_acc,
                gpqa_pt_logcost, gpqa_pt_acc, gpqa_pt_date, False, False)

# ---------------- colour bar ----------------
cb = figure(width=700, height=109, x_range=Range1d(cbar_years[0], cbar_years[-1]),
            y_range=Range1d(0, 1), output_backend="svg", toolbar_location=None,
            y_axis_location=None, min_border_left=126, min_border_right=20,
            min_border_top=33, min_border_bottom=48)
cb.outline_line_color = None
cb.grid.visible = False
NPIX = 600
grad_years = np.linspace(cbar_years[0], cbar_years[-1], NPIX)
img = np.zeros((1, NPIX), dtype=np.uint32)
view = img.view(dtype=np.uint8).reshape((1, NPIX, 4))
for i, yv in enumerate(grad_years):
    r, g, b = _rgb(date_color(yv))
    view[0, i] = [r, g, b, 255]
cb.image_rgba(image=[img], x=cbar_years[0], y=0, dw=cbar_years[-1] - cbar_years[0], dh=1)
cb.segment(x0=cbar_ticks, y0=[0] * 3, x1=cbar_ticks, y1=[0.16] * 3, line_color="white", line_width=1.5)
cb.segment(x0=cbar_ticks, y0=[0.84] * 3, x1=cbar_ticks, y1=[1] * 3, line_color="white", line_width=1.5)
cb.xaxis.ticker = FixedTicker(ticks=cbar_ticks)
cb.xaxis.axis_line_color = None
cb.xaxis.major_tick_line_color = None
cb.xaxis.minor_tick_line_color = None
cb.xaxis.major_label_text_font = FONT
cb.xaxis.major_label_text_font_size = "24px"
cb.xaxis.major_label_text_color = "#4b5a5d"
cb.xaxis.major_label_standoff = 12

# ---------------- shared x axis title ----------------
lab = figure(width=1992, height=39, x_range=Range1d(0, 1), y_range=Range1d(0, 1),
             output_backend="svg", toolbar_location=None, x_axis_location=None,
             y_axis_location=None, min_border=0)
lab.outline_line_color = None
lab.grid.visible = False
lab.add_layout(Label(x=0.5276, y=0.66, text="Cost per task (log scale)", text_align="center",
                     text_baseline="middle", text_font=FONT, text_font_size="24px",
                     text_font_style="bold", text_color=TEXT))

layout = column(cb, row(tl, tr), row(bl, br), lab)
open("out.html", "w").write(file_html(layout, INLINE, "Cost vs accuracy"))
